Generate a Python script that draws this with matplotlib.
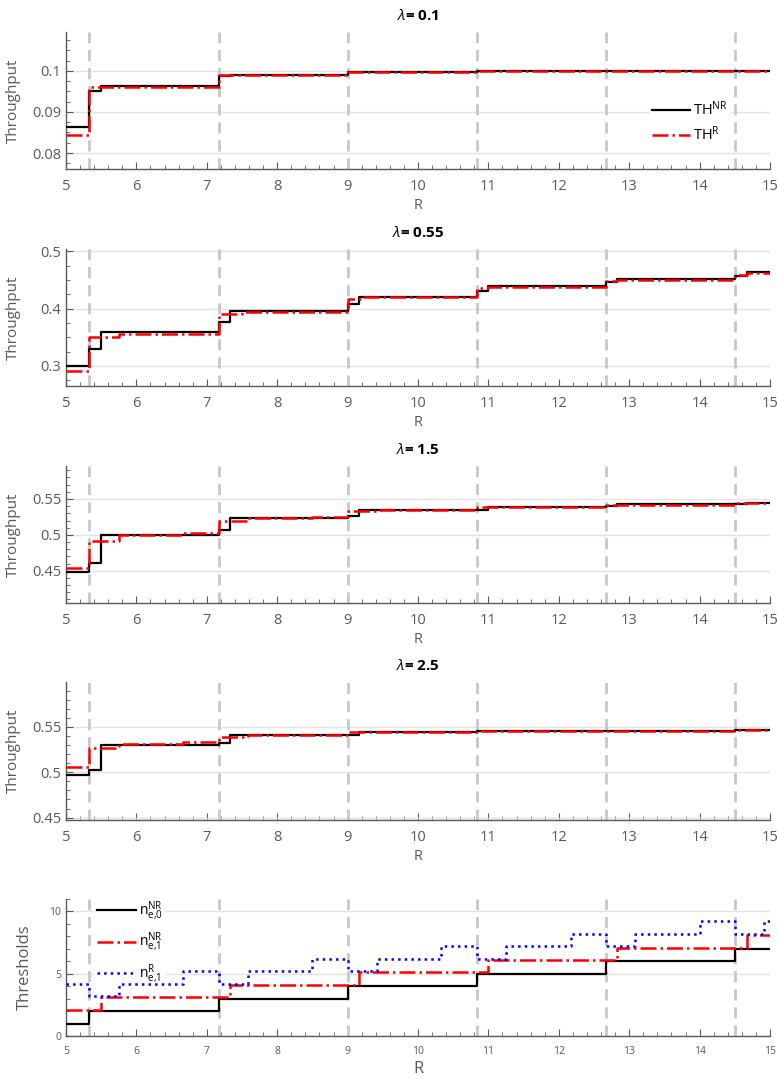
import matplotlib.pyplot as plt
from matplotlib.ticker import MultipleLocator, FuncFormatter

# Fonts: Open Sans for text, custom mathtext so sub/superscripts match
plt.rcParams['font.family'] = ['Open Sans', 'DejaVu Sans']
plt.rcParams['mathtext.fontset'] = 'custom'
plt.rcParams['mathtext.rm'] = 'Open Sans'
plt.rcParams['mathtext.it'] = 'Open Sans:italic'
plt.rcParams['mathtext.bf'] = 'Open Sans:bold'

# R values where the thresholds switch (grey dashed lines)
switch_R = [5.333, 7.167, 9.0, 10.833, 12.667, 14.5]

# lambda = 0.1
r_nr_01 = [5, 5.333, 5.5, 7.167, 7.333, 9.0, 10.833, 12.667, 14.5, 15]
th_nr_01 = [0.0864, 0.0951, 0.0964, 0.0987, 0.0990, 0.0997, 0.0999, 0.09995, 0.1, 0.1]
r_r_01 = [5, 5.333, 5.75, 7.167, 7.583, 9.0, 10.833, 12.667, 14.5, 15]
th_r_01 = [0.0844, 0.0961, 0.0960, 0.0989, 0.0990, 0.0997, 0.0999, 0.09995, 0.1, 0.1]

# lambda = 0.55
r_nr_055 = [5, 5.333, 5.5, 7.167, 7.333, 9.0, 9.167, 10.833, 11.0, 12.667, 12.833, 14.5, 14.667, 15]
th_nr_055 = [0.300, 0.329, 0.359, 0.377, 0.396, 0.408, 0.421, 0.430, 0.440, 0.446, 0.452, 0.457, 0.464, 0.464]
r_r_055 = [5, 5.333, 5.75, 7.167, 7.5, 9.0, 9.2, 10.833, 11.0, 12.667, 12.833, 14.5, 14.667, 15]
th_r_055 = [0.292, 0.351, 0.355, 0.391, 0.394, 0.416, 0.420, 0.436, 0.437, 0.449, 0.450, 0.459, 0.462, 0.462]

# lambda = 1.5
r_nr_15 = [5, 5.333, 5.5, 7.167, 7.333, 9.0, 9.167, 10.833, 11.0, 12.667, 12.833, 14.5, 14.667, 15]
th_nr_15 = [0.448, 0.461, 0.500, 0.5065, 0.524, 0.526, 0.534, 0.535, 0.5395, 0.540, 0.543, 0.5435, 0.544, 0.544]
r_r_15 = [5, 5.333, 5.75, 6.667, 7.167, 7.583, 8.5, 9.0, 9.417, 10.833, 12.667, 14.5, 15]
th_r_15 = [0.4535, 0.492, 0.500, 0.502, 0.520, 0.524, 0.525, 0.533, 0.534, 0.5386, 0.5414, 0.5447, 0.5447]

# lambda = 2.5
r_nr_25 = [5, 5.333, 5.5, 7.167, 7.333, 9.0, 9.167, 10.833, 12.667, 14.5, 15]
th_nr_25 = [0.4967, 0.5026, 0.530, 0.532, 0.541, 0.5414, 0.5443, 0.545, 0.5458, 0.5465, 0.5465]
r_r_25 = [5, 5.333, 5.75, 6.667, 7.167, 7.583, 9.0, 10.833, 12.667, 14.5, 15]
th_r_25 = [0.5055, 0.5264, 0.5311, 0.533, 0.5392, 0.5414, 0.544, 0.5452, 0.546, 0.5465, 0.5465]

# thresholds
r_n0_nr = [5, 5.333, 7.167, 9.0, 10.833, 12.667, 14.5, 15]
n0_nr = [1, 2, 3, 4, 5, 6, 7, 7]
r_n1_nr = [5, 5.5, 7.333, 9.167, 11.0, 12.833, 14.667, 15]
n1_nr = [2.1, 3.1, 4.1, 5.1, 6.1, 7.1, 8.1, 8.1]
r_n1_r = [5, 5.333, 5.75, 6.667, 7.167, 7.583, 8.5, 9.0, 9.417, 10.333, 10.833,
          11.25, 12.167, 12.667, 13.083, 14.0, 14.5, 14.917, 15]
n1_r = [4.2, 3.2, 4.2, 5.2, 4.2, 5.2, 6.2, 5.2, 6.2, 7.2, 6.2,
        7.2, 8.2, 7.2, 8.2, 9.2, 8.2, 9.2, 9.2]

panels = [
    ('0.1', r_nr_01, th_nr_01, r_r_01, th_r_01, (0.0761, 0.1095), 0.01, 0.0025),
    ('0.55', r_nr_055, th_nr_055, r_r_055, th_r_055, (0.265, 0.504), 0.1, 0.025),
    ('1.5', r_nr_15, th_nr_15, r_r_15, th_r_15, (0.405, 0.596), 0.05, 0.01),
    ('2.5', r_nr_25, th_nr_25, r_r_25, th_r_25, (0.4474, 0.5995), 0.05, 0.01),
]

axis_grey = '#595959'
W, H = 777, 1079
# axes boxes in pixels (top, bottom)
boxes = [(32, 169), (249, 386), (466, 603), (682, 820), (899, 1036)]

# tick labels like 0.1 / 0.09, no padding zeros
short_fmt = FuncFormatter(lambda v, pos: '{:g}'.format(round(v, 6)))


def style_axes(ax, ymajor, yminor, ticksize):
    # only left and bottom spines, grey, ticks pointing in
    for s in ['top', 'right']:
        ax.spines[s].set_visible(False)
    for s in ['left', 'bottom']:
        ax.spines[s].set_color(axis_grey)
        ax.spines[s].set_linewidth(1.0)
    ax.set_xlim(5, 15)
    ax.xaxis.set_major_locator(MultipleLocator(1))
    ax.xaxis.set_minor_locator(MultipleLocator(0.2))
    ax.yaxis.set_major_locator(MultipleLocator(ymajor))
    ax.yaxis.set_minor_locator(MultipleLocator(yminor))
    ax.yaxis.set_major_formatter(short_fmt)
    ax.tick_params(which='both', direction='in', colors=axis_grey,
                   labelsize=ticksize, top=False, right=False)
    ax.tick_params(which='major', length=5)
    ax.tick_params(which='minor', length=3)
    ax.tick_params(axis='x', pad=7)
    ax.grid(axis='y', which='major', color='#e3e3e3', linewidth=1.0)
    ax.set_axisbelow(True)
    for r in switch_R:
        ax.axvline(r, color='#c8c8c8', linewidth=2, dashes=(4, 2.5), zorder=1.5)


fig = plt.figure(figsize=(W / 100, H / 100), dpi=100)

for i, (lam, r_nr, th_nr, r_r, th_r, ylim, ymaj, ymin) in enumerate(panels):
    top, bot = boxes[i]
    ax = fig.add_axes([66 / W, 1 - bot / H, 704 / W, (bot - top) / H])
    style_axes(ax, ymaj, ymin, 10.5)
    ax.step(r_nr, th_nr, where='post', color='black', linewidth=1.6,
            label=r'TH$^{\mathrm{NR}}$', zorder=3)
    ax.step(r_r, th_r, where='post', color='red', linewidth=1.8,
            linestyle='-.', label=r'TH$^{\mathrm{R}}$', zorder=4)
    ax.set_ylim(*ylim)
    ax.set_title(r'$\lambda$= ' + lam, fontsize=11, fontweight='bold', pad=9)
    ax.set_ylabel('Throughput', fontsize=11, color=axis_grey)
    ax.yaxis.set_label_coords(-0.064, 0.5)
    ax.set_xlabel('R', fontsize=10.5, color=axis_grey, labelpad=3)
    if i == 0:
        leg = ax.legend(loc='center right', bbox_to_anchor=(0.955, 0.34),
                        frameon=True, facecolor='white', edgecolor='none',
                        framealpha=1, fontsize=10.5, handlelength=2.6,
                        labelspacing=0.45, handletextpad=0.2, borderpad=0.2)
        leg.set_zorder(2.5)

# thresholds panel
top, bot = boxes[4]
ax = fig.add_axes([66 / W, 1 - bot / H, 704 / W, (bot - top) / H])
style_axes(ax, 5, 1, 7.5)
ax.step(r_n0_nr, n0_nr, where='post', color='black', linewidth=1.6,
        label=r'$\mathrm{n}_{\mathrm{e{,}0}}^{\mathrm{NR}}$', zorder=3)
ax.step(r_n1_nr, n1_nr, where='post', color='red', linewidth=1.8,
        linestyle='-.', label=r'$\mathrm{n}_{\mathrm{e{,}1}}^{\mathrm{NR}}$', zorder=4)
ax.step(r_n1_r, n1_r, where='post', color='blue', linewidth=1.8,
        linestyle=':', label=r'$\mathrm{n}_{\mathrm{e{,}1}}^{\mathrm{R}}$', zorder=4)
ax.set_ylim(0, 11)
ax.set_ylabel('Thresholds', fontsize=12, color=axis_grey)
ax.yaxis.set_label_coords(-0.047, 0.5)
ax.set_xlabel('R', fontsize=12, color=axis_grey, labelpad=3)
leg = ax.legend(loc='center left', bbox_to_anchor=(0.03, 0.68),
                frameon=True, facecolor='white', edgecolor='none', framealpha=1,
                fontsize=10, handlelength=2.8, labelspacing=0.6,
                handletextpad=0.2, borderpad=0.2)
leg.set_zorder(2.5)

plt.savefig('out.png', dpi=100)
